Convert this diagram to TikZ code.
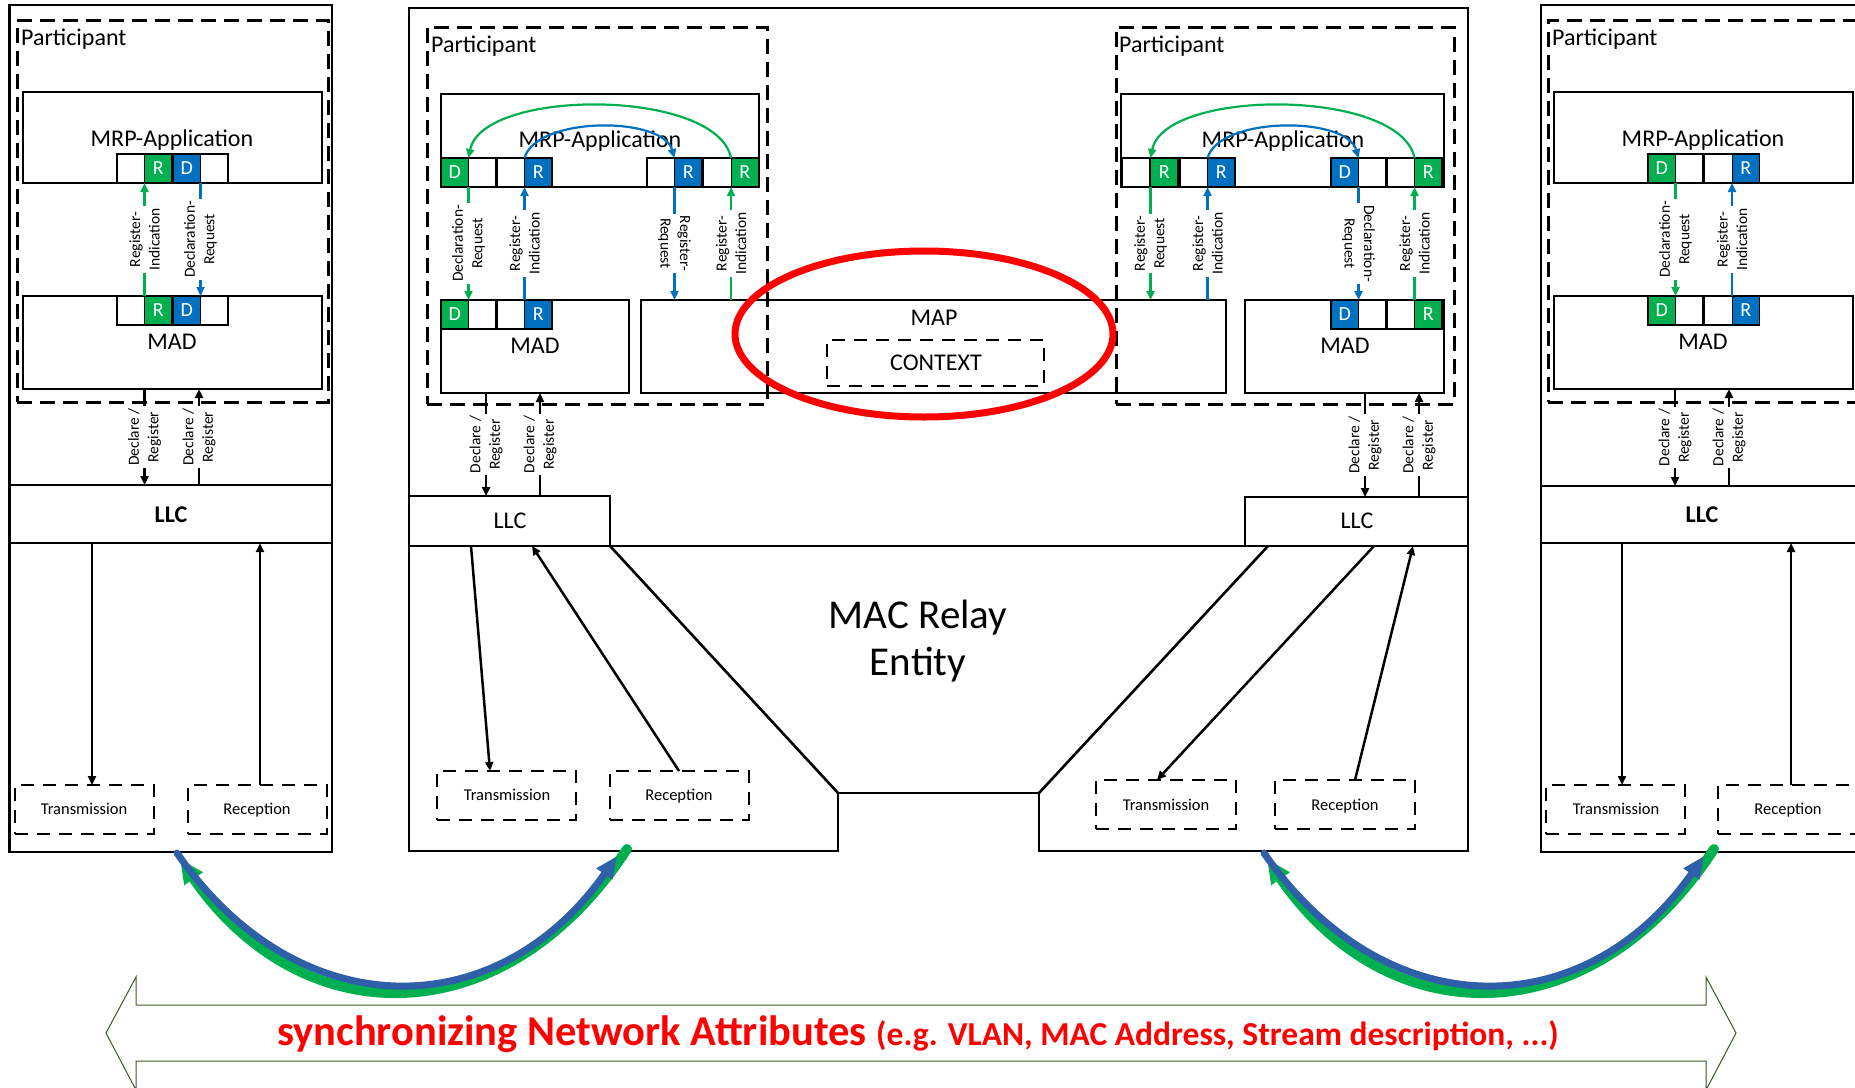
\documentclass[tikz,border=0pt]{standalone}
\usepackage{fontspec}
\setmainfont{Carlito}
\usetikzlibrary{arrows.meta,calc,shapes.geometric}
\definecolor{mgreen}{HTML}{00B050}
\definecolor{mblue}{HTML}{0070C0}
\definecolor{ablue}{HTML}{2E5FA8}
\definecolor{sgreen}{HTML}{385723}
\newcommand{\fs}[1]{\fontsize{#1}{#1}\selectfont}
\newcommand{\rect}[6]{\node[#1, anchor=north west, minimum width={(#5-#3)*1pt}, minimum height={(#6-#4)*1pt}] (#2) at (#3,#4) {};}
\tikzset{
 box/.style={draw, line width=2.6pt, inner sep=0pt, outer sep=0pt},
 pbox/.style={draw, line width=3pt, dash pattern=on 15pt off 8pt, inner sep=0pt, outer sep=0pt},
 tbox/.style={draw, line width=2.6pt, dash pattern=on 13pt off 9pt, inner sep=0pt, outer sep=0pt},
 cellbase/.style={draw=black, line width=0.8pt, minimum width=27.5pt, minimum height=29pt, inner sep=0pt, outer sep=0pt, anchor=north west, text=white, font=\fs{20}},
 gc/.style={cellbase, fill=mgreen},
 bc/.style={cellbase, fill=mblue},
 wc/.style={cellbase, fill=white},
 pairbox/.style={draw=black, line width=1.8pt},
 tx/.style={font=\fs{24}, inner sep=0pt, anchor=base},
 llcb/.style={font=\fs{24}\bfseries, inner sep=0pt, anchor=base},
 small/.style={font=\fs{16.5}, inner sep=0pt, anchor=base},
 lbl/.style={font=\fontsize{15.5}{19.5}\selectfont, fill=white, align=center, inner sep=2pt},
 arrtip/.style={-{Triangle[length=9pt,width=8pt]}},
 garr/.style={arrtip, draw=mgreen, line width=2.2pt},
 barr/.style={arrtip, draw=mblue, line width=2.2pt},
 karr/.style={arrtip, draw=black, line width=2.5pt},
 thick2/.style={draw=black, line width=2.6pt},
}
\begin{document}
\begin{tikzpicture}[x=1pt,y=-1pt]
\useasboundingbox (0,0) rectangle (1855,1087);
\clip (0,0) rectangle (1855,1087);

% ================= LEFT STATION =================
\rect{box}{Lout}{9.5}{5}{332}{852}
\rect{pbox}{Lpart}{17}{20}{328}{402}
\node[tx, anchor=base west] (LpartT) at (21,45) {Participant};
\rect{box}{Lapp}{23}{92}{322}{183}
\node[tx] (LappT) at (172,146) {MRP-Application};
\node[wc] (La1) at (117,154) {};
\node[gc] (La2) at (144.5,154) {R};
\node[bc] (La3) at (173,154) {D};
\node[wc] (La4) at (200.5,154) {};
\draw[pairbox] (La1.north west) rectangle (La2.south east);
\draw[pairbox] (La3.north west) rectangle (La4.south east);
\rect{box}{Lmad}{23}{296}{322}{389}
\node[wc] (Lm1) at (117,296) {};
\node[gc] (Lm2) at (144.5,296) {R};
\node[bc] (Lm3) at (173,296) {D};
\node[wc] (Lm4) at (200.5,296) {};
\draw[pairbox] (Lm1.north west) rectangle (Lm2.south east);
\draw[pairbox] (Lm3.north west) rectangle (Lm4.south east);
\node[tx] (LmadT) at (172,349) {MAD};
\draw[garr] (Lm2.north west) -- node[lbl, rotate=90] {Register-\\Indication} (La2.south west);
\draw[barr] (La3.south east) -- node[lbl, rotate=90] {Declaration-\\Request} (Lm3.north east);
\rect{box}{Lllc}{9.5}{485}{332}{543}
\node[llcb] (LllcT) at (171,522) {LLC};
\draw[karr] (Lm2.north west |- Lmad.south) -- node[lbl, rotate=90] {Declare /\\Register} (Lm2.north west |- Lllc.north);
\draw[karr] ($(Lllc.north west)+(189.5,0)$) -- node[lbl, rotate=90] {Declare /\\Register} ($(Lmad.south west)+(176,0)$);
\rect{tbox}{Ltx}{15}{785}{154}{834}
\rect{tbox}{Lrx}{188}{785}{327}{834}
\node[small] (LtxT) at (84,814) {Transmission};
\node[small] (LrxT) at (257,814) {Reception};
\draw[karr] ($(Lllc.south west)+(82.5,0)$) -- ($(Ltx.north west)+(77,0)$);
\draw[karr] ($(Lrx.north west)+(72,0)$) -- ($(Lllc.south west)+(250.5,0)$);

% ================= MIDDLE BRIDGE =================
\draw[thick2] (409,8) -- (1468,8) -- (1468,851) -- (1039,851) -- (1039,793) -- (838,793) -- (838,851) -- (409,851) -- cycle;
\draw[thick2] (409,546) -- (1468,546);
\rect{box}{MLllc}{409}{496}{610}{546}
\rect{box}{MRllc}{1245}{497}{1468}{546}
\node[tx] (MLllcT) at (510,528) {LLC};
\node[tx] (MRllcT) at (1357,528) {LLC};
\draw[thick2] (MLllc.south east) -- (838,793);
\draw[thick2] ($(MRllc.south west)+(23,0)$) -- (1039,793);
\node[font=\fontsize{41}{47}\selectfont, align=center, inner sep=0pt] (relay) at (918,641) {MAC Relay\\Entity};

% middle-left participant
\rect{pbox}{MLpart}{427}{27}{767}{404}
\node[tx, anchor=base west] (MLpartT) at (431,52) {Participant};
\rect{box}{MLapp}{441}{94}{759}{187}
\node[tx] (MLappT) at (600,147) {MRP-Application};
\node[gc] (MLa1) at (441,158) {D};
\node[wc] (MLa2) at (468.5,158) {};
\node[wc] (MLa3) at (497,158) {};
\node[bc] (MLa4) at (524.5,158) {R};
\node[wc] (MLa5) at (647,158) {};
\node[bc] (MLa6) at (674.5,158) {R};
\node[wc] (MLa7) at (703.5,158) {};
\node[gc] (MLa8) at (731,158) {R};
\draw[pairbox] (MLa1.north west) rectangle (MLa2.south east);
\draw[pairbox] (MLa3.north west) rectangle (MLa4.south east);
\draw[pairbox] (MLa5.north west) rectangle (MLa6.south east);
\draw[pairbox] (MLa7.north west) rectangle (MLa8.south east);
\rect{box}{MLmad}{441}{300}{629}{393}
\node[gc] (MLm1) at (441,300) {D};
\node[wc] (MLm2) at (468.5,300) {};
\node[wc] (MLm3) at (497,300) {};
\node[bc] (MLm4) at (524.5,300) {R};
\draw[pairbox] (MLm1.north west) rectangle (MLm2.south east);
\draw[pairbox] (MLm3.north west) rectangle (MLm4.south east);
\node[tx] (MLmadT) at (535,353) {MAD};

% MAP
\rect{box}{map}{641}{300}{1226}{393}
\node[tx] (mapT) at (934,325) {MAP};
\rect{tbox}{ctx}{827}{340}{1044}{386}
\node[tx] (ctxT) at (936,370) {CONTEXT};

\draw[garr] (MLa1.south east) -- node[lbl, rotate=90] {Declaration-\\Request} (MLm1.north east);
\draw[barr] (MLm4.north west) -- node[lbl, rotate=90] {Register-\\Indication} (MLa4.south west);
\draw[barr] (MLa6.south west) -- node[lbl, rotate=-90] {Register-\\Request} (MLa6.south west |- map.north);
\draw[garr] (MLa8.south west |- map.north) -- node[lbl, rotate=90] {Register-\\Indication} (MLa8.south west);
\draw[garr] (MLa8.north west) .. controls ($(MLa8.north west)+(-14,-70)$) and ($(MLa1.north east)+(14,-70)$) .. (MLa1.north east);
\draw[barr] (MLa4.north west) .. controls ($(MLa4.north west)+(12,-42)$) and ($(MLa6.north west)+(-12,-42)$) .. (MLa6.north west);

\draw[karr] ($(MLmad.south west)+(45,0)$) -- node[lbl, rotate=90] {Declare /\\Register} ($(MLllc.north west)+(77,0)$);
\draw[karr] ($(MLllc.north west)+(131,0)$) -- node[lbl, rotate=90] {Declare /\\Register} ($(MLmad.south west)+(99,0)$);

\rect{tbox}{MLtx}{437}{771}{576}{820}
\rect{tbox}{MLrx}{610}{771}{749}{820}
\node[small] (MLtxT) at (507,800) {Transmission};
\node[small] (MLrxT) at (679,800) {Reception};
\draw[karr] ($(MLllc.south west)+(62,0)$) -- ($(MLtx.north west)+(53,0)$);
\draw[karr] ($(MLrx.north west)+(69,0)$) -- ($(MLllc.south west)+(123,0)$);

% middle-right participant
\rect{pbox}{MRpart}{1116}{27}{1454}{404}
\node[tx, anchor=base west] (MRpartT) at (1119,52) {Participant};
\rect{box}{MRapp}{1121}{94}{1444}{187}
\node[tx] (MRappT) at (1283,147) {MRP-Application};
\node[wc] (MRa1) at (1122,158) {};
\node[gc] (MRa2) at (1150.5,158) {R};
\node[wc] (MRa3) at (1180,158) {};
\node[bc] (MRa4) at (1207.5,158) {R};
\node[bc] (MRa5) at (1331,158) {D};
\node[wc] (MRa6) at (1358.5,158) {};
\node[wc] (MRa7) at (1387,158) {};
\node[gc] (MRa8) at (1414.5,158) {R};
\draw[pairbox] (MRa1.north west) rectangle (MRa2.south east);
\draw[pairbox] (MRa3.north west) rectangle (MRa4.south east);
\draw[pairbox] (MRa5.north west) rectangle (MRa6.south east);
\draw[pairbox] (MRa7.north west) rectangle (MRa8.south east);
\rect{box}{MRmad}{1245}{300}{1444}{393}
\node[bc] (MRm1) at (1331,300) {D};
\node[wc] (MRm2) at (1358.5,300) {};
\node[wc] (MRm3) at (1387,300) {};
\node[gc] (MRm4) at (1414.5,300) {R};
\draw[pairbox] (MRm1.north west) rectangle (MRm2.south east);
\draw[pairbox] (MRm3.north west) rectangle (MRm4.south east);
\node[tx] (MRmadT) at (1345,353) {MAD};

\draw[garr] (MRa2.south west) -- node[lbl, rotate=90] {Register-\\Request} (MRa2.south west |- map.north);
\draw[barr] (MRa4.south west |- map.north) -- node[lbl, rotate=90] {Register-\\Indication} (MRa4.south west);
\draw[barr] (MRa5.south east) -- node[lbl, rotate=-90] {Declaration-\\Request} (MRm1.north east);
\draw[garr] (MRm4.north west) -- node[lbl, rotate=90] {Register-\\Indication} (MRa8.south west);
\draw[garr] (MRa8.north west) .. controls ($(MRa8.north west)+(-14,-70)$) and ($(MRa2.north west)+(14,-70)$) .. (MRa2.north west);
\draw[barr] (MRa4.north west) .. controls ($(MRa4.north west)+(12,-42)$) and ($(MRa5.north east)+(-12,-42)$) .. (MRa5.north east);

\draw[karr] ($(MRmad.south west)+(120,0)$) -- node[lbl, rotate=90] {Declare /\\Register} ($(MRllc.north west)+(120,0)$);
\draw[karr] ($(MRllc.north west)+(174,0)$) -- node[lbl, rotate=90] {Declare /\\Register} ($(MRmad.south west)+(174,0)$);

\rect{tbox}{MRtx}{1096}{780}{1236}{829}
\rect{tbox}{MRrx}{1275}{780}{1415}{829}
\node[small] (MRtxT) at (1166,810) {Transmission};
\node[small] (MRrxT) at (1345,810) {Reception};
\draw[karr] ($(MRllc.south west)+(129,0)$) -- ($(MRtx.north west)+(61,0)$);
\draw[karr] ($(MRrx.north west)+(80,0)$) -- ($(MRllc.south west)+(168,0)$);

% red highlight
\node[ellipse, draw=red, line width=7pt, minimum width=378pt, minimum height=166pt, inner sep=0pt] (hl) at (924,334) {};

% ================= RIGHT STATION =================
\rect{box}{Rout}{1541}{5}{1880}{852}
\rect{pbox}{Rpart}{1548}{20}{1880}{402}
\node[tx, anchor=base west] (RpartT) at (1552,45) {Participant};
\rect{box}{Rapp}{1554}{92}{1853}{183}
\node[tx] (RappT) at (1703,146) {MRP-Application};
\node[gc] (Ra1) at (1648,154) {D};
\node[wc] (Ra2) at (1675.5,154) {};
\node[wc] (Ra3) at (1704.5,154) {};
\node[bc] (Ra4) at (1732,154) {R};
\draw[pairbox] (Ra1.north west) rectangle (Ra2.south east);
\draw[pairbox] (Ra3.north west) rectangle (Ra4.south east);
\rect{box}{Rmad}{1554}{296}{1853}{389}
\node[gc] (Rm1) at (1648,296) {D};
\node[wc] (Rm2) at (1675.5,296) {};
\node[wc] (Rm3) at (1704.5,296) {};
\node[bc] (Rm4) at (1732,296) {R};
\draw[pairbox] (Rm1.north west) rectangle (Rm2.south east);
\draw[pairbox] (Rm3.north west) rectangle (Rm4.south east);
\node[tx] (RmadT) at (1703,349) {MAD};
\draw[garr] (Ra1.south east) -- node[lbl, rotate=90] {Declaration-\\Request} (Rm1.north east);
\draw[barr] (Rm4.north west) -- node[lbl, rotate=90] {Register-\\Indication} (Ra4.south west);
\rect{box}{Rllc}{1541}{486}{1880}{543}
\node[llcb] (RllcT) at (1702,522) {LLC};
\draw[karr] ($(Rmad.south west)+(121,0)$) -- node[lbl, rotate=90] {Declare /\\Register} ($(Rllc.north west)+(134,0)$);
\draw[karr] ($(Rllc.north west)+(188,0)$) -- node[lbl, rotate=90] {Declare /\\Register} ($(Rmad.south west)+(175,0)$);
\rect{tbox}{Rtx}{1546}{785}{1685}{834}
\rect{tbox}{Rrx}{1718}{785}{1880}{834}
\node[small] (RtxT) at (1616,814) {Transmission};
\node[small] (RrxT) at (1788,814) {Reception};
\draw[karr] ($(Rllc.south west)+(81,0)$) -- ($(Rtx.north west)+(76,0)$);
\draw[karr] ($(Rrx.north west)+(73,0)$) -- ($(Rllc.south west)+(250,0)$);

% ================= SYNC ARCS =================
\coordinate (gA1) at (627,849);
\coordinate (gA2) at (180,859);
\coordinate (bA1) at (177,853);
\coordinate (bA2) at (617,856);
\coordinate (gB1) at (1714,849);
\coordinate (gB2) at (1267,859);
\coordinate (bB1) at (1264,853);
\coordinate (bB2) at (1704,856);
\draw[mgreen, line width=10pt, line cap=round, -{Triangle[length=24pt,width=21pt]}] (gA1) .. controls (505,1036) and (302,1036) .. (gA2);
\draw[ablue, line width=7pt, line cap=round, -{Triangle[length=22pt,width=18pt]}] (bA1) .. controls (297,1027) and (497,1027) .. (bA2);
\draw[mgreen, line width=10pt, line cap=round, -{Triangle[length=24pt,width=21pt]}] (gB1) .. controls (1592,1036) and (1389,1036) .. (gB2);
\draw[ablue, line width=7pt, line cap=round, -{Triangle[length=22pt,width=18pt]}] (bB1) .. controls (1384,1027) and (1584,1027) .. (bB2);

% ================= DOUBLE ARROW =================
\draw[sgreen, line width=1pt] (106,1033) -- (136,977) -- (136,1005) -- (1706,1005) -- (1706,977) -- (1736,1033) -- (1706,1090) -- (1706,1061) -- (136,1061) -- (136,1090) -- cycle;
\node[text=red, inner sep=0pt, anchor=base] (sync) at (918,1045) {\fs{42.5}\bfseries synchronizing Network Attributes {\fs{33.5}(e.g. VLAN, MAC Address, Stream description, ...)}};
\end{tikzpicture}
\end{document}
